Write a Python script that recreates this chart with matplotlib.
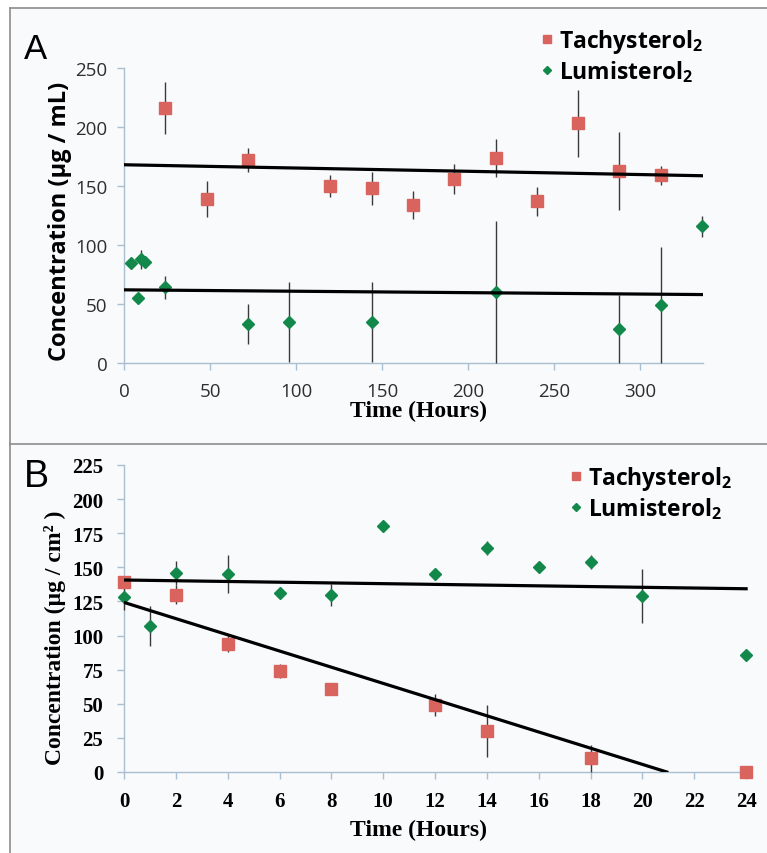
import matplotlib
matplotlib.use("Agg")
import matplotlib.pyplot as plt
from matplotlib.lines import Line2D
from matplotlib.patches import Rectangle
import numpy as np

W, H = 767, 854

# panel A: concentration in solution (ug/mL) over two weeks
a_tachy_x = [24, 48, 72, 120, 144, 168, 192, 216, 240, 264, 288, 312]
a_tachy_y = [216, 139, 172, 150, 148, 134, 156, 174, 137, 203, 163, 159]
a_tachy_err = [22, 15, 10, 9, 14, 12, 13, 16, 12, 28, 33, 8]
a_lumi_x = [4, 8, 10, 12, 24, 72, 96, 144, 216, 288, 312, 336]
a_lumi_y = [85, 55, 88, 86, 64, 33, 35, 35, 60, 29, 49, 116]
a_lumi_err = [0, 0, 8, 0, 10, 17, 34, 34, 60, 29, 49, 9]
a_trend_x = [0, 336]
a_tachy_trend = [168, 158.7]
a_lumi_trend = [62, 58]

# panel B: concentration on film (ug/cm2) over a day
b_tachy_x = [0, 2, 4, 6, 8, 12, 14, 18, 24]
b_tachy_y = [139, 130, 94, 74, 61, 49, 30, 10, 0]
b_tachy_err = [3, 7, 6, 5, 4, 8, 19, 10, 0]
b_lumi_x = [0, 1, 2, 4, 6, 8, 10, 12, 14, 16, 18, 20, 24]
b_lumi_y = [128, 107, 146, 145, 131, 130, 180, 145, 164, 150, 154, 129, 86]
b_lumi_err = [9, 15, 9, 14, 3, 8, 0, 0, 5, 3, 5, 20, 0]
b_tachy_trend_x = [0, 20.94]
b_tachy_trend = [124.3, 0]
b_lumi_trend_x = [0, 24]
b_lumi_trend = [140.7, 134.3]

legend_labels = [r'Tachysterol$_\mathbf{2}$', r'Lumisterol$_\mathbf{2}$']

RED = '#d9645e'
GREEN = '#12894a'
SPINE = '#a9bfd1'

plt.rcParams['mathtext.fontset'] = 'custom'
plt.rcParams['mathtext.bf'] = 'Open Sans:bold'
plt.rcParams['mathtext.rm'] = 'Open Sans'


def fx(px):
    return px / W


def fy(py):
    return 1 - py / H


fig = plt.figure(figsize=(W / 100, H / 100), dpi=100)
fig.patch.set_facecolor('white')
fig.add_artist(Rectangle((fx(10), 0), 1, fy(9), transform=fig.transFigure,
                         facecolor='#f9fafc', edgecolor='none', zorder=-5))
for xs, ys in [([10, W], [9, 9]), ([10, 10], [9, H]), ([10, W], [445, 445])]:
    fig.add_artist(Line2D([fx(v) for v in xs], [fy(v) for v in ys],
                          color='#8c8c8c', lw=1.2, transform=fig.transFigure))

axA = fig.add_axes([fx(124), fy(364), fx(703 - 124), (364 - 69) / H])
axB = fig.add_axes([fx(124), fy(773), fx(750 - 124), (773 - 466) / H])

for ax in (axA, axB):
    ax.set_facecolor('none')
    for s in ('top', 'right'):
        ax.spines[s].set_visible(False)
    for s in ('left', 'bottom'):
        ax.spines[s].set_color(SPINE)
        ax.spines[s].set_linewidth(1.0)
    ax.tick_params(direction='out', length=5, width=1.0, color=SPINE)

err_kw = dict(ecolor='#3a3a3a', elinewidth=1.0, capsize=0, linestyle='none',
              clip_on=False, zorder=3)
leg_kw = dict(loc='upper left', bbox_transform=fig.transFigure, frameon=False,
              markerscale=0.6, handlelength=0.5, handletextpad=0.25,
              labelspacing=0.12, borderpad=0,
              prop=dict(family='Open Sans', weight='bold', size=16.5))

# ---- panel A
hA1 = axA.errorbar(a_tachy_x, a_tachy_y, yerr=a_tachy_err, marker='s', ms=8.5,
                   mfc=RED, mec=RED, **err_kw)
hA2 = axA.errorbar(a_lumi_x, a_lumi_y, yerr=a_lumi_err, marker='D', ms=6.2,
                   mfc=GREEN, mec=GREEN, **err_kw)
axA.plot(a_trend_x, a_tachy_trend, color='black', lw=2.3, zorder=4)
axA.plot(a_trend_x, a_lumi_trend, color='black', lw=2.3, zorder=4)
axA.set_xlim(0, 336.6)
axA.set_ylim(0, 250)
axA.set_xticks([0, 50, 100, 150, 200, 250, 300])
axA.set_yticks([0, 50, 100, 150, 200, 250])
axA.tick_params(axis='y', pad=7)
axA.tick_params(axis='x', pad=9)
for lab in axA.get_xticklabels() + axA.get_yticklabels():
    lab.set_family('Open Sans')
    lab.set_fontsize(13.5)
    lab.set_color('#2e2e2e')
fig.text(fx(60), fy(221), 'Concentration (\u00b5g / mL)', rotation=90,
         ha='center', va='center', family='Open Sans', weight='bold',
         fontsize=17)
fig.text(fx(418), fy(411), 'Time (Hours)', ha='center', va='center',
         family='Liberation Serif', weight='bold', fontsize=17)
fig.text(fx(24), fy(59), 'A', family='Liberation Sans', fontsize=25,
         ha='left', va='baseline')
axA.legend([hA1[0], hA2[0]], legend_labels,
           bbox_to_anchor=(fx(530), fy(17)), **leg_kw)

# ---- panel B
hB1 = axB.errorbar(b_tachy_x, b_tachy_y, yerr=b_tachy_err, marker='s', ms=8.5,
                   mfc=RED, mec=RED, **err_kw)
hB2 = axB.errorbar(b_lumi_x, b_lumi_y, yerr=b_lumi_err, marker='D', ms=6.2,
                   mfc=GREEN, mec=GREEN, **err_kw)
axB.plot(b_tachy_trend_x, b_tachy_trend, color='black', lw=2.3, zorder=4)
axB.plot(b_lumi_trend_x, b_lumi_trend, color='black', lw=2.3, zorder=4)
axB.set_xlim(0, 24.15)
axB.set_ylim(0, 225)
axB.set_xticks(np.arange(0, 25, 2))
axB.set_yticks(np.arange(0, 226, 25))
axB.tick_params(axis='y', pad=10)
axB.tick_params(axis='x', pad=9)
for lab in axB.get_xticklabels() + axB.get_yticklabels():
    lab.set_family('Liberation Serif')
    lab.set_weight('bold')
    lab.set_fontsize(15)
    lab.set_color('black')
fig.text(fx(55), fy(638), 'Concentration (\u00b5g / cm\u00b2 )', rotation=90,
         ha='center', va='center', family='Liberation Serif', weight='bold',
         fontsize=17)
fig.text(fx(418), fy(830), 'Time (Hours)', ha='center', va='center',
         family='Liberation Serif', weight='bold', fontsize=17)
fig.text(fx(24), fy(487), 'B', family='Liberation Sans', fontsize=27,
         ha='left', va='baseline')
axB.legend([hB1[0], hB2[0]], legend_labels,
           bbox_to_anchor=(fx(559), fy(454)), **leg_kw)

fig.savefig('out.png', dpi=100, facecolor='white')
